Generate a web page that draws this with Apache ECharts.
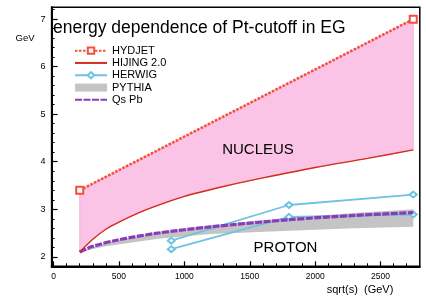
<!DOCTYPE html>
<html><head><meta charset="utf-8">
<script src="https://cdn.jsdelivr.net/npm/echarts@6/dist/echarts.min.js"></script>
<style>html,body{margin:0;padding:0;background:#fff}#c{width:426px;height:301px}</style>
</head><body><div id="c"></div>
<script>
const hydjetX = [200, 2750];
const hydjetY = [3.4, 7.0];
const hijingX = [200, 300, 400, 500, 700, 1000, 1300, 1600, 2000, 2400, 2750];
const hijingY = [2.1, 2.37, 2.58, 2.73, 2.98, 3.27, 3.48, 3.66, 3.88, 4.07, 4.25];
const herwigX = [900, 1800, 2750];
const herwigUpperY = [2.34, 3.09, 3.31];
const herwigLowerY = [2.16, 2.84, 2.89];
const pythiaX = [200, 400, 800, 1200, 1800, 2300, 2750];
const pythiaLowY = [2.1, 2.22, 2.38, 2.48, 2.55, 2.6, 2.63];
const pythiaHighY = [2.1, 2.3, 2.52, 2.66, 2.82, 2.92, 3.0];
const qsX = [200, 300, 500, 800, 1200, 1800, 2300, 2750];
const qsY = [2.1, 2.22, 2.36, 2.5, 2.63, 2.78, 2.87, 2.93];
const xMajor = [0, 500, 1000, 1500, 2000, 2500];
const yMajor = [2, 3, 4, 5, 6, 7];

const xMinor = [];
for (let v = 100; v < 2800; v += 100) if (v % 500 !== 0) xMinor.push(v);
const yMinor = [];
for (let k = 11; k <= 36; k++) if (k % 5 !== 0) yMinor.push(+(k * 0.2).toFixed(1));

const FONT = 'Liberation Sans, Arial, sans-serif';
const pair = (xs, ys) => xs.map((x, i) => [x, ys[i]]);
const plain = v => String(v);

const chart = echarts.init(document.getElementById('c'), null, {renderer: 'canvas'});
chart.setOption({
  animation: false,
  grid: {left: 51.6, top: 7.3, width: 368.2, height: 259, show: true, borderColor: '#000', borderWidth: 1.5, backgroundColor: 'transparent'},
  xAxis: [
    {
      type: 'value', min: -15, max: 2800, position: 'bottom', splitLine: {show: false},
      axisLine: {show: true, onZero: false, lineStyle: {color: '#000', width: 2}},
      axisTick: {show: true, inside: true, length: 5, customValues: xMajor, lineStyle: {color: '#000', width: 1.2}},
      axisLabel: {show: true, customValues: xMajor, formatter: plain, fontSize: 8.5, fontFamily: FONT, color: '#000', margin: 6}
    },
    {
      type: 'value', min: -15, max: 2800, position: 'bottom', splitLine: {show: false},
      axisLine: {show: false, onZero: false},
      axisTick: {show: true, inside: true, length: 3, customValues: xMinor, lineStyle: {color: '#000', width: 1}},
      axisLabel: {show: false}
    }
  ],
  yAxis: [
    {
      type: 'value', min: 1.8, max: 7.25, position: 'left', splitLine: {show: false},
      axisLine: {show: true, onZero: false, lineStyle: {color: '#000', width: 2}},
      axisTick: {show: true, inside: true, length: 6, customValues: yMajor, lineStyle: {color: '#000', width: 1.2}},
      axisLabel: {show: true, customValues: yMajor, formatter: plain, fontSize: 9, fontFamily: FONT, color: '#000', margin: 6}
    },
    {
      type: 'value', min: 1.8, max: 7.25, position: 'left', offset: 0, splitLine: {show: false},
      axisLine: {show: false, onZero: false},
      axisTick: {show: true, inside: true, length: 3, customValues: yMinor, lineStyle: {color: '#000', width: 1}},
      axisLabel: {show: false}
    }
  ],
  legend: {
    left: 74, top: 44.5, orient: 'vertical', itemWidth: 32, itemHeight: 8, itemGap: 0, padding: 0,
    selectedMode: false,
    textStyle: {fontSize: 11, fontFamily: FONT, color: '#000', lineHeight: 12.3},
    data: [
      {name: 'HYDJET'},
      {name: 'HIJING 2.0', itemStyle: {opacity: 0}},
      {name: 'HERWIG'},
      {name: 'PYTHIA', icon: 'rect', itemStyle: {color: '#c4c4c4'}},
      {name: 'Qs Pb', itemStyle: {opacity: 0}}
    ]
  },
  graphic: [
    {type: 'text', left: 53, top: 19, style: {text: 'energy dependence of Pt-cutoff in EG', font: '17.5px ' + FONT, fill: '#000'}},
    {type: 'text', x: 25, y: 38, style: {text: 'GeV', font: '9.5px ' + FONT, fill: '#000', align: 'center', verticalAlign: 'middle', textAlign: 'center', textVerticalAlign: 'middle'}},
    {type: 'text', x: 258, y: 150, z: 10, style: {text: 'NUCLEUS', font: '15px ' + FONT, fill: '#000', align: 'center', verticalAlign: 'middle', textAlign: 'center', textVerticalAlign: 'middle'}},
    {type: 'text', x: 285.5, y: 247.5, z: 10, style: {text: 'PROTON', font: '15px ' + FONT, fill: '#000', align: 'center', verticalAlign: 'middle', textAlign: 'center', textVerticalAlign: 'middle'}},
    {type: 'text', x: 360, y: 289.5, style: {text: 'sqrt(s)  (GeV)', font: '11px ' + FONT, fill: '#000', align: 'center', verticalAlign: 'middle', textAlign: 'center', textVerticalAlign: 'middle'}}
  ],
  series: [
    {
      type: 'custom', name: 'nucleus', silent: true, z: 1, clip: true,
      data: [[hydjetX[0], hydjetY[0]]],
      renderItem: function (params, api) {
        const pts = [];
        hydjetX.forEach((x, i) => pts.push(api.coord([x, hydjetY[i]])));
        for (let i = hijingX.length - 1; i >= 0; i--) pts.push(api.coord([hijingX[i], hijingY[i]]));
        return {type: 'polygon', shape: {points: pts}, style: {fill: '#fbc4e6', stroke: '#f7b3dc', lineWidth: 1}};
      }
    },
    {
      type: 'custom', name: 'PYTHIA', silent: true, z: 2, clip: true,
      itemStyle: {color: '#c4c4c4'},
      data: [[pythiaX[0], pythiaLowY[0]]],
      renderItem: function (params, api) {
        const pts = [];
        pythiaX.forEach((x, i) => pts.push(api.coord([x, pythiaHighY[i]])));
        for (let i = pythiaX.length - 1; i >= 0; i--) pts.push(api.coord([pythiaX[i], pythiaLowY[i]]));
        return {type: 'polygon', shape: {points: pts}, style: {fill: '#c4c4c4'}};
      }
    },
    {
      type: 'line', name: 'HERWIG', z: 3, data: pair(herwigX, herwigUpperY),
      symbol: 'emptyDiamond', symbolSize: [7, 6], showAllSymbol: true,
      lineStyle: {color: '#6ec3e2', width: 1.8}, itemStyle: {color: '#6ec3e2', borderWidth: 1.5}
    },
    {
      type: 'line', name: 'HERWIG', z: 3, data: pair(herwigX, herwigLowerY),
      symbol: 'emptyDiamond', symbolSize: [7, 6], showAllSymbol: true,
      lineStyle: {color: '#6ec3e2', width: 1.8}, itemStyle: {color: '#6ec3e2', borderWidth: 1.5}
    },
    {
      type: 'line', name: 'Qs Pb', z: 4, data: pair(qsX, qsY), smooth: 0.3,
      symbol: 'none',
      lineStyle: {color: '#8a3bb8', width: 3.2, type: [7, 1.5]}, itemStyle: {color: '#8a3bb8'}
    },
    {
      type: 'line', name: 'HIJING 2.0', z: 5, data: pair(hijingX, hijingY), smooth: 0.3,
      symbol: 'none',
      lineStyle: {color: '#d0301a', width: 1.4}, itemStyle: {color: '#d0301a'}
    },
    {
      type: 'line', name: 'HYDJET', z: 6, data: pair(hydjetX, hydjetY),
      symbol: 'emptyRect', symbolSize: 7, showAllSymbol: true,
      lineStyle: {color: '#f4503a', width: 2.6, type: [2.5, 1.5]}, itemStyle: {color: '#f4503a', borderWidth: 1.6}
    }
  ]
});
</script>
</body></html>
